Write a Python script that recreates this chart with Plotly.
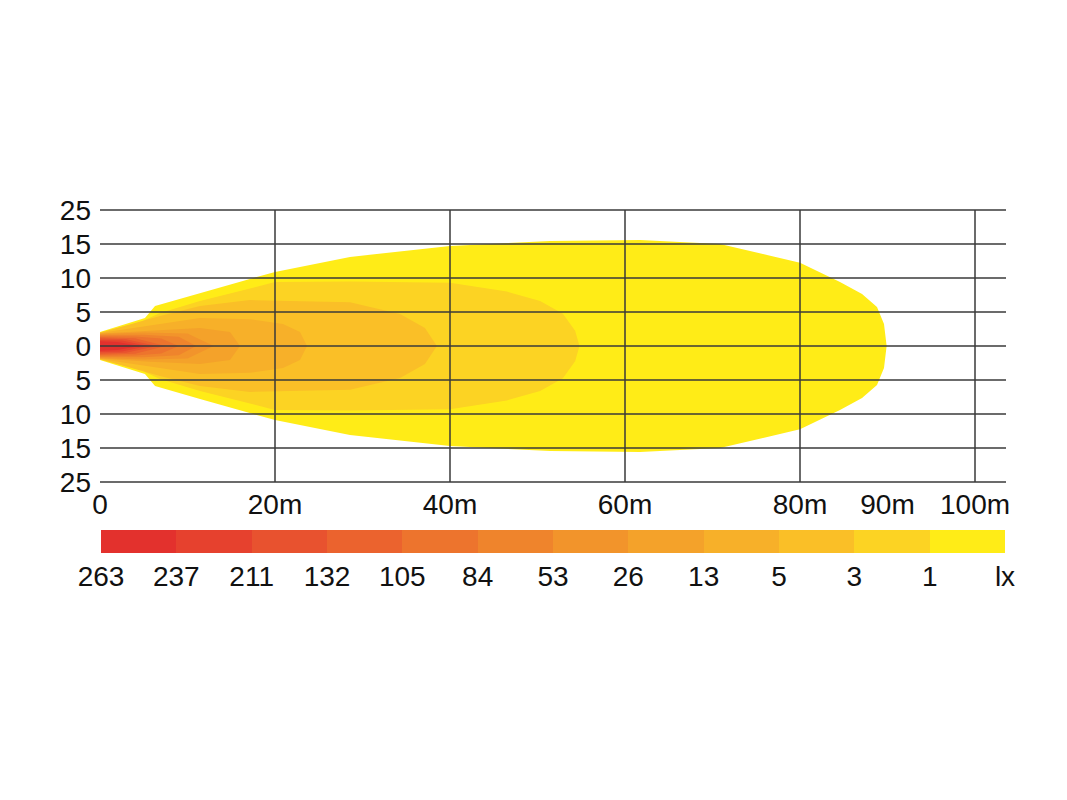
import plotly.graph_objects as go

# ---------------- data ----------------
# colour-scale legend (lux levels, from high to low)
legend_labels = ["263", "237", "211", "132", "105", "84", "53", "26", "13", "5", "3", "1", "lx"]
level_colors = ["#E3312D", "#E6412E", "#E8522F", "#EB632E", "#ED742D", "#EF842C",
                "#F2942B", "#F4A22A", "#F7B029", "#FABF27", "#FCD323", "#FFEC17"]

# isolux outlines: distance (m) and half-width (in y-grid rows), symmetric about 0
iso_1_x = [0, 5.14, 6.29, 11.43, 20, 28.57, 40, 51.43, 61.71, 70.86, 80, 84.57, 87.09, 88.8, 89.6, 89.9]
iso_1_w = [0.41, 0.82, 1.18, 1.56, 2.18, 2.62, 2.94, 3.09, 3.12, 3.0, 2.45, 1.88, 1.53, 1.15, 0.65, 0]
iso_3_x = [0, 4.57, 6.86, 11.43, 20, 28.57, 40, 46.5, 50.3, 52.9, 54.3, 54.8]
iso_3_w = [0.40, 0.70, 0.97, 1.32, 1.88, 1.9, 1.86, 1.6, 1.32, 0.95, 0.45, 0]
iso_5_x = [0, 6.86, 11.43, 17.14, 28.57, 34.29, 37.14, 38.5]
iso_5_w = [0.39, 0.88, 1.18, 1.35, 1.29, 0.94, 0.53, 0]
iso_13_x = [0, 5.71, 11.43, 17.14, 20.91, 22.86, 23.66]
iso_13_w = [0.38, 0.6, 0.82, 0.79, 0.65, 0.41, 0]
iso_26_x = [0, 5.71, 11.43, 14.86, 16.0]
iso_26_w = [0.37, 0.46, 0.53, 0.41, 0]
iso_53_x = [0, 5.0, 10.0, 13.0]
iso_53_w = [0.35, 0.40, 0.37, 0]
iso_84_x = [0, 5.0, 9.0, 11.0]
iso_84_w = [0.32, 0.33, 0.27, 0]
iso_105_x = [0, 4.0, 7.0, 9.0]
iso_105_w = [0.29, 0.28, 0.22, 0]
iso_132_x = [0, 4.0, 7.5]
iso_132_w = [0.26, 0.23, 0]
iso_211_x = [0, 3.0, 6.5]
iso_211_w = [0.22, 0.20, 0]
iso_237_x = [0, 2.5, 5.5]
iso_237_w = [0.18, 0.16, 0]
iso_263_x = [0, 2.0, 4.5]
iso_263_w = [0.14, 0.12, 0]

# x-axis ticks
x_tickvals = [0, 20, 40, 60, 80, 90, 100]
x_ticktext = ["0", "20m", "40m", "60m", "80m", "90m", "100m"]
x_gridvals = [20, 40, 60, 80, 100]
# y-axis rows (non-linear labelling)
y_tickvals = [4, 3, 2, 1, 0, -1, -2, -3, -4]
y_ticktext = ["25", "15", "10", "5", "0", "5", "10", "15", "25"]

# ---------------- figure ----------------
W, H = 1067, 800
FONT = "Liberation Sans, Arial, sans-serif"
FS = 28
TXT = "#111111"
fig = go.Figure()

isolines = [
    (iso_1_x, iso_1_w, level_colors[11]),
    (iso_3_x, iso_3_w, level_colors[10]),
    (iso_5_x, iso_5_w, level_colors[9]),
    (iso_13_x, iso_13_w, level_colors[8]),
    (iso_26_x, iso_26_w, level_colors[7]),
    (iso_53_x, iso_53_w, level_colors[6]),
    (iso_84_x, iso_84_w, level_colors[5]),
    (iso_105_x, iso_105_w, level_colors[4]),
    (iso_132_x, iso_132_w, level_colors[3]),
    (iso_211_x, iso_211_w, level_colors[2]),
    (iso_237_x, iso_237_w, level_colors[1]),
    (iso_263_x, iso_263_w, level_colors[0]),
]
for xs, ws, col in isolines:
    px = list(xs) + list(reversed(xs))
    py = list(ws) + [-w for w in reversed(ws)]
    fig.add_trace(go.Scatter(x=px, y=py, mode="lines", fill="toself", fillcolor=col,
                             line=dict(width=0, color=col), hoverinfo="skip",
                             showlegend=False, xaxis="x", yaxis="y"))

# legend colour strip
n = len(level_colors)
fig.add_trace(go.Heatmap(z=[list(range(n))], x=list(range(n)), y=[0],
                         colorscale=[[i / (n - 1), c] for i, c in enumerate(level_colors)],
                         zmin=0, zmax=n - 1, showscale=False, hoverinfo="skip",
                         xaxis="x2", yaxis="y2"))

x_max = (1006 - 100) / 8.75
pad = 0.05
row_px = 34
y_top_px = 210 - pad * row_px
y_bot_px = 482 + pad * row_px

tf = dict(family=FONT, size=FS, color=TXT)
fig.update_layout(
    width=W, height=H, autosize=False,
    margin=dict(l=0, r=0, t=0, b=0),
    paper_bgcolor="white", plot_bgcolor="rgba(0,0,0,0)",
    font=dict(family=FONT, size=FS, color=TXT),
    xaxis=dict(domain=[100 / W, 1006 / W], range=[0, x_max], tickvals=x_tickvals,
               ticktext=x_ticktext, showgrid=False, zeroline=False, showline=False,
               automargin=False, ticks="", ticklabelstandoff=1,
               tickfont=tf, fixedrange=True),
    yaxis=dict(domain=[(H - y_bot_px) / H, (H - y_top_px) / H], range=[-4 - pad, 4 + pad],
               tickvals=y_tickvals, ticktext=y_ticktext, showgrid=False, zeroline=False,
               automargin=False, showline=False, ticks="", ticklabelstandoff=8,
               tickfont=tf, fixedrange=True),
    xaxis2=dict(domain=[101 / W, 1005 / W], range=[-0.5, n - 0.5], anchor="y2",
                tickvals=[i - 0.5 for i in range(n + 1)], ticktext=legend_labels,
                showgrid=False, zeroline=False, showline=False, automargin=False,
                ticks="", ticklabelstandoff=4,
                tickfont=tf, fixedrange=True),
    yaxis2=dict(domain=[(H - 553) / H, (H - 530) / H], range=[-0.5, 0.5], anchor="x2",
                showticklabels=False, showgrid=False, zeroline=False, showline=False,
                automargin=False, fixedrange=True),
)

grid_line = dict(color="#3a3a3a", width=1.5)
for v in y_tickvals:
    fig.add_shape(type="line", xref="x domain", x0=0, x1=1, yref="y", y0=v, y1=v,
                  line=grid_line, layer="above")
for v in x_gridvals:
    fig.add_shape(type="line", xref="x", x0=v, x1=v, yref="y", y0=-4, y1=4,
                  line=grid_line, layer="above")

fig.write_html("out.html", config={"displayModeBar": False, "staticPlot": True},
               post_script="document.body.style.margin='0';document.body.style.padding='0';")
